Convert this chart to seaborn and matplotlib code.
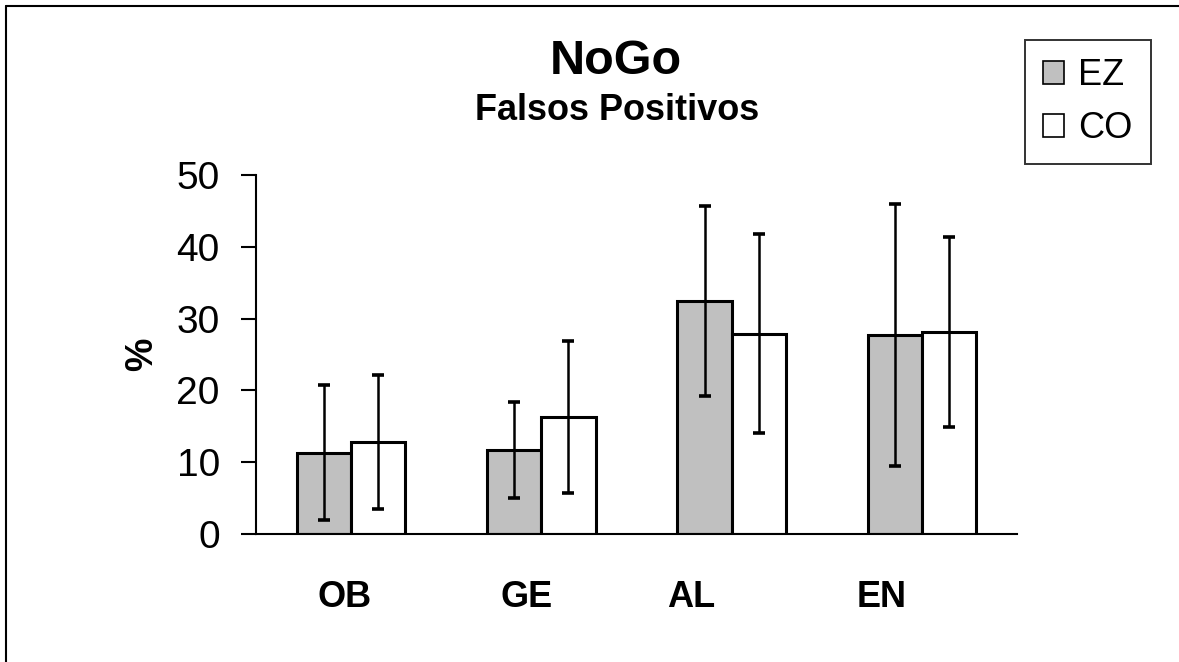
import matplotlib
matplotlib.use("Agg")
import matplotlib.pyplot as plt
from matplotlib.lines import Line2D
from matplotlib.transforms import ScaledTranslation
import seaborn as sns
import pandas as pd

categories = ["OB", "GE", "AL", "EN"]
groups = ["EZ", "CO"]
ez_values = [11.3, 11.7, 32.5, 27.7]
co_values = [12.8, 16.3, 27.9, 28.1]
ez_err = [9.4, 6.7, 13.25, 18.25]
co_err = [9.35, 10.55, 13.9, 13.25]
yticks = [0, 10, 20, 30, 40, 50]

df = pd.DataFrame({
    "cat": categories * 2,
    "group": ["EZ"] * 4 + ["CO"] * 4,
    "val": ez_values + co_values,
})

sns.set_theme(style="white")
plt.rcParams["font.family"] = ["Liberation Sans", "DejaVu Sans"]
for k in ["text.color", "axes.labelcolor", "xtick.color", "ytick.color"]:
    plt.rcParams[k] = "black"

fig = plt.figure(figsize=(11.79, 6.62), dpi=100)
ax = fig.add_axes([0.2171, 0.1934, 0.6455, 0.5422])

sns.barplot(data=df, x="cat", y="val", hue="group", order=categories,
            hue_order=groups, palette={"EZ": "#c0c0c0", "CO": "#ffffff"},
            width=0.57, edgecolor="black", linewidth=2.2, errorbar=None,
            ax=ax, saturation=1)

for cont, errs in zip(ax.containers, [ez_err, co_err]):
    xs = [p.get_x() + p.get_width() / 2 for p in cont.patches]
    hs = [p.get_height() for p in cont.patches]
    ax.errorbar(xs, hs, yerr=errs, fmt="none", ecolor="black",
                elinewidth=1.8, capsize=4, capthick=2.6, zorder=5)

ax.set_xlim(-0.5, 3.5)
ax.set_ylim(0, 50)
ax.set_yticks(yticks)
ax.set_yticklabels([str(t) for t in yticks], fontsize=28)
ax.set_xticks(range(len(categories)))
ax.set_xticklabels(categories, fontsize=26, fontweight="bold")
ax.tick_params(axis="x", length=0, pad=33)
ax.tick_params(axis="y", length=11, width=1.5, color="black", pad=15,
               direction="out", left=True)
# hand-placed category labels sit slightly left of the group centres
label_shift_px = [-7, -15, -40, -40]
for lab, dx in zip(ax.get_xticklabels(), label_shift_px):
    lab.set_transform(lab.get_transform() +
                      ScaledTranslation(dx / 100, 0, fig.dpi_scale_trans))
ax.set_xlabel("")
ax.set_ylabel("%", fontsize=27, fontweight="bold", labelpad=12)
for s in ["top", "right"]:
    ax.spines[s].set_visible(False)
for s in ["left", "bottom"]:
    ax.spines[s].set_color("black")
    ax.spines[s].set_linewidth(1.5)

leg = ax.legend(loc="upper left", bbox_to_anchor=(1025 / 1179, 1 - 40 / 662),
                bbox_transform=fig.transFigure, fontsize=26, frameon=True,
                fancybox=False, edgecolor="black", handlelength=0.58,
                handleheight=0.58, handletextpad=0.4, labelspacing=0.5,
                borderpad=0.5, borderaxespad=0, title=None)
leg.get_frame().set_linewidth(1.4)
for h in leg.legend_handles:
    h.set_linewidth(1.2)

fig.text(616 / 1179, 1 - 62 / 662, "NoGo", ha="center", va="center",
         fontsize=35, fontweight="bold")
fig.text(617 / 1179, 1 - 110 / 662, "Falsos Positivos", ha="center",
         va="center", fontsize=26, fontweight="bold")

fig.add_artist(Line2D([6 / 1179, 6 / 1179], [0, 1 - 6 / 662],
                      transform=fig.transFigure, color="black", lw=1.5))
fig.add_artist(Line2D([6 / 1179, 1], [1 - 6 / 662, 1 - 6 / 662],
                      transform=fig.transFigure, color="black", lw=1.5))

fig.savefig("out.png", dpi=100, facecolor="white")
